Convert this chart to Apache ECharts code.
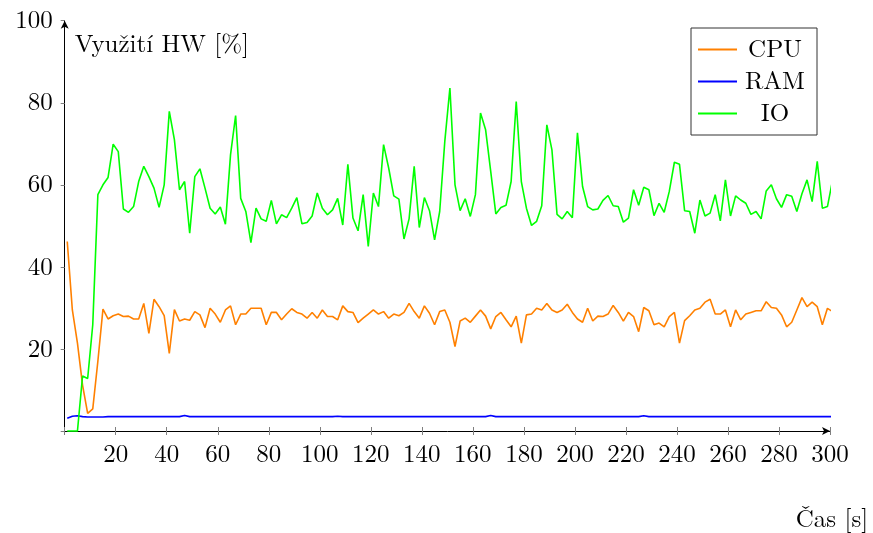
<!DOCTYPE html>
<html><head><meta charset="utf-8">
<script src="https://cdn.jsdelivr.net/npm/echarts@6/dist/echarts.min.js"></script>
<style>html,body{margin:0;padding:0;background:#fff}#c{width:873px;height:533px}</style>
</head><body><div id="c"></div>
<script>
const seriesNames = ['CPU', 'RAM', 'IO'];
const time = [1,3,5,7,9,11,13,15,17,19,21,23,25,27,29,31,33,35,37,39,41,43,45,47,49,51,53,55,57,59,
61,63,65,67,69,71,73,75,77,79,81,83,85,87,89,91,93,95,97,99,101,103,105,107,109,111,113,115,117,119,
121,123,125,127,129,131,133,135,137,139,141,143,145,147,149,151,153,155,157,159,161,163,165,167,169,171,173,175,177,179,
181,183,185,187,189,191,193,195,197,199,201,203,205,207,209,211,213,215,217,219,221,223,225,227,229,231,233,235,237,239,
241,243,245,247,249,251,253,255,257,259,261,263,265,267,269,271,273,275,277,279,281,283,285,287,289,291,293,295,297,299,301];
const cpu = [46.2,29.5,21.4,11.2,4.3,5.4,17,29.7,27.3,28.1,28.5,27.9,28.0,27.3,27.3,31.1,23.8,32.1,30.3,28.1,
18.9,29.6,26.8,27.3,27.0,29.1,28.3,25.2,29.9,28.5,26.5,29.5,30.5,25.9,28.5,28.5,29.9,29.9,29.9,25.9,
28.9,28.9,27.1,28.5,29.8,28.9,28.5,27.5,28.9,27.5,29.5,27.9,27.9,27.1,30.5,29.1,28.9,26.4,27.5,28.5,
29.5,28.5,29.1,27.5,28.5,28.1,28.9,31.1,29.1,27.5,30.5,28.7,25.9,29.1,29.5,26.5,20.6,26.8,27.5,26.5,
28.0,29.5,28.0,24.9,27.9,28.9,27.1,25.4,28.0,21.4,28.3,28.5,29.9,29.5,31.1,29.5,28.9,29.5,30.9,28.9,
27.3,26.5,29.9,26.8,28.0,27.9,28.5,30.6,28.9,26.8,28.9,27.9,24.2,30.1,29.3,25.9,26.3,25.4,27.9,28.9,
21.4,26.9,28.1,29.5,29.9,31.4,32.1,28.5,28.5,29.5,25.4,29.5,27.1,28.5,28.9,29.3,29.3,31.5,30.1,29.9,
28.3,25.4,26.5,29.5,32.5,30.3,31.4,30.3,25.9,29.9,29.1];
const ram = [3.1,3.6,3.7,3.5,3.4,3.4,3.4,3.4,3.5,3.5,3.5,3.5,3.5,3.5,3.5,3.5,3.5,3.5,3.5,3.5,
3.5,3.5,3.5,3.8,3.5,3.5,3.5,3.5,3.5,3.5,3.5,3.5,3.5,3.5,3.5,3.5,3.5,3.5,3.5,3.5,
3.5,3.5,3.5,3.5,3.5,3.5,3.5,3.5,3.5,3.5,3.5,3.5,3.5,3.6,3.5,3.5,3.5,3.5,3.5,3.5,
3.5,3.5,3.5,3.5,3.5,3.5,3.5,3.5,3.5,3.5,3.5,3.5,3.5,3.5,3.5,3.5,3.5,3.5,3.5,3.5,
3.5,3.5,3.5,3.8,3.5,3.5,3.5,3.5,3.5,3.5,3.5,3.5,3.5,3.5,3.5,3.5,3.5,3.5,3.5,3.5,
3.5,3.5,3.5,3.5,3.5,3.5,3.5,3.5,3.5,3.5,3.5,3.5,3.5,3.7,3.5,3.5,3.5,3.5,3.5,3.5,
3.5,3.5,3.5,3.5,3.5,3.5,3.5,3.5,3.5,3.5,3.5,3.5,3.5,3.5,3.5,3.5,3.5,3.5,3.5,3.5,
3.5,3.5,3.5,3.5,3.5,3.5,3.5,3.5,3.5,3.5,3.5];
const io = [0,0,0,13.4,12.8,25.9,57.6,60,61.8,69.9,68.1,54.1,53.3,54.7,60.8,64.5,62,59.2,54.5,60,
77.9,71,58.8,60.8,48.2,62,63.9,59.2,54.3,52.9,54.6,50.4,67.3,76.9,56.7,53.5,45.9,54.3,51.7,51.1,
56.2,50.5,52.7,52.0,54.3,56.9,50.5,50.8,52.4,58.0,54.3,52.7,53.9,56.7,50.2,65.0,51.9,48.8,57.6,45.0,
58.0,54.7,69.8,64.1,57.3,56.5,46.8,51.7,64.5,49.6,56.9,53.7,46.6,53.5,70.6,83.6,60.0,53.7,56.6,52.3,
57.6,77.5,73.4,63.3,52.9,54.5,55.0,60.8,80.3,60.8,54.3,50.1,51.1,54.9,74.6,68.5,52.8,51.7,53.5,52.0,
72.7,59.6,54.7,53.9,54.1,56.2,57.4,54.9,54.7,50.9,51.9,58.8,55.0,59.4,58.8,52.5,55.5,53.3,58.4,65.5,
65.0,53.7,53.5,48.2,56.3,52.4,53.1,57.6,51.2,61.2,52.4,57.3,56.3,55.5,52.8,53.5,51.7,58.5,60.0,56.6,
54.5,57.6,57.2,53.5,57.8,61.2,55.9,65.7,54.3,54.7,61.1];
const colors = ['#ff8000', '#0000ff', '#00ff00'];
const xMin = 0, xMax = 300, xStep = 20;
const yMin = 0, yMax = 100, yStep = 20;
const xTitle = 'Čas [s]';
const yTitle = 'Využití HW [%]';

const FONT = '"Latin Modern Roman", "Liberation Serif", serif';
const chart = echarts.init(document.getElementById('c'), null, {renderer: 'canvas'});
const values = [cpu, ram, io];
const tickStyle = {color: '#7f7f7f', width: 1};
const hideZero = v => (v === 0 ? '' : String(v));

chart.setOption({
  animation: false,
  backgroundColor: '#fff',
  grid: {left: 64.7, right: 43, top: 20.7, bottom: 102},
  legend: {
    data: seriesNames,
    orient: 'vertical',
    left: 691, top: 28,
    icon: 'rect', itemWidth: 39, itemHeight: 2, itemGap: 7,
    padding: [9, 9, 9, 7],
    borderColor: '#333', borderWidth: 1,
    formatter: n => '{a|' + n + '}',
    textStyle: {fontFamily: FONT, fontSize: 25, color: '#000',
      rich: {a: {width: 66, align: 'center', fontFamily: FONT, fontSize: 25, lineHeight: 24, color: '#000'}}}
  },
  xAxis: [{
    type: 'value', min: xMin, max: xMax, interval: xStep, position: 'bottom',
    axisLine: {show: true, lineStyle: {color: '#000', width: 1}, symbol: ['none', 'arrow'], symbolSize: [6, 8]},
    axisTick: {show: true, length: 4, lineStyle: tickStyle},
    axisLabel: {show: true, fontFamily: FONT, fontSize: 25, color: '#000', margin: 11, formatter: hideZero},
    splitLine: {show: false},
    name: xTitle, nameLocation: 'end', nameGap: 2,
    nameTextStyle: {fontFamily: FONT, fontSize: 25, color: '#000', align: 'center', verticalAlign: 'top', padding: [76, 0, 0, 0]}
  }, {
    type: 'value', min: xMin, max: xMax, interval: xStep, position: 'bottom',
    axisLine: {show: false}, axisTick: {show: true, inside: true, length: 4, lineStyle: tickStyle},
    axisLabel: {show: false}, splitLine: {show: false}
  }],
  yAxis: [{
    type: 'value', min: yMin, max: yMax, interval: yStep, position: 'left',
    axisLine: {show: true, lineStyle: {color: '#000', width: 1}, symbol: ['none', 'arrow'], symbolSize: [6, 8]},
    axisTick: {show: true, length: 4, lineStyle: tickStyle},
    axisLabel: {show: true, fontFamily: FONT, fontSize: 25, color: '#000', margin: 12, formatter: hideZero},
    splitLine: {show: false},
    name: yTitle, nameLocation: 'end', nameGap: -24,
    nameTextStyle: {fontFamily: FONT, fontSize: 25, color: '#000', align: 'left', verticalAlign: 'middle', padding: [0, 0, 0, 10]}
  }],
  series: seriesNames.map((n, k) => ({
    name: n, type: 'line', xAxisIndex: 0, yAxisIndex: 0,
    data: time.map((t, i) => [t, values[k][i]]),
    symbol: 'none', showSymbol: false, clip: false,
    lineStyle: {color: colors[k], width: 1.6},
    itemStyle: {color: colors[k]}
  }))
});
</script>
</body></html>
